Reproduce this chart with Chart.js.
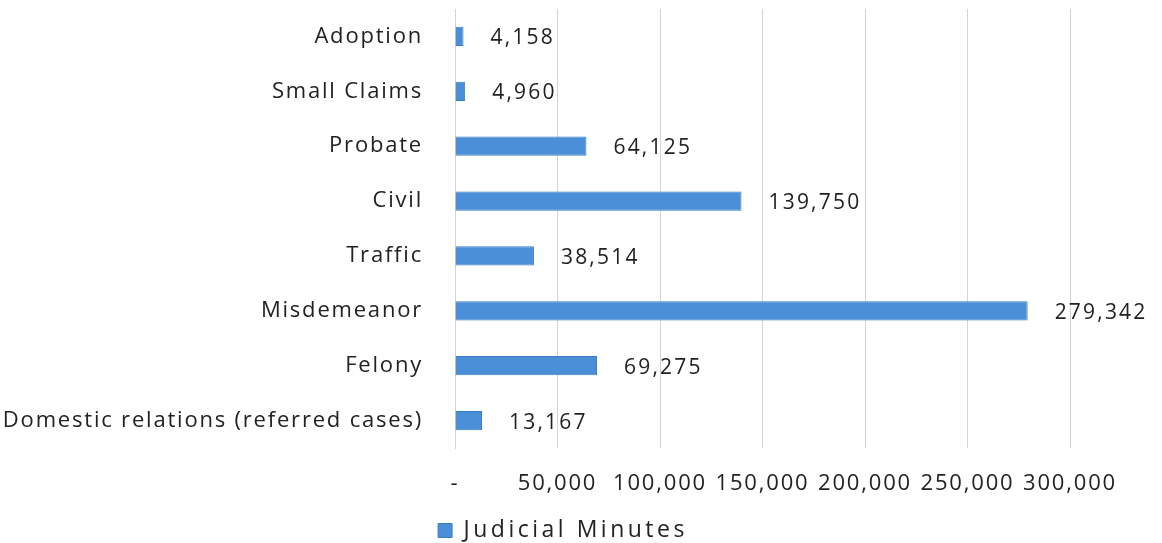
<!DOCTYPE html>
<html>
<head>
<meta charset="utf-8">
<script src="https://cdn.jsdelivr.net/npm/chart.js@4/dist/chart.umd.min.js"></script>
<style>
  html, body { margin: 0; padding: 0; background: #fff; }
  #wrap { width: 1162px; height: 543px; }
</style>
</head>
<body>
<div id="wrap"><canvas id="myChart" width="1162" height="543"></canvas></div>
<script>
// chart data
const categories = ['Adoption', 'Small Claims', 'Probate', 'Civil', 'Traffic', 'Misdemeanor', 'Felony', 'Domestic relations (referred cases)'];
const judicialMinutes = [4158, 4960, 64125, 139750, 38514, 279342, 69275, 13167];
const xTicks = [0, 50000, 100000, 150000, 200000, 250000, 300000];

const fontFamily = '"Open Sans", "Liberation Sans", sans-serif';

// run fn with a given letter spacing on the canvas
function withSpacing(ctx, sp, fn) {
  const prev = ctx.letterSpacing;
  ctx.letterSpacing = sp;
  fn();
  ctx.letterSpacing = prev;
}

// the scanned text is widely spaced, so space the canvas text out a bit
const spacing = {
  id: 'spacing',
  afterInit(chart) {
    // legend text is spaced even wider
    const lg = chart.legend;
    const upd = lg.update.bind(lg);
    const drw = lg.draw.bind(lg);
    lg.update = (...a) => withSpacing(chart.ctx, '3.5px', () => upd(...a));
    lg.draw = (...a) => withSpacing(chart.ctx, '3.5px', () => drw(...a));
  },
  beforeUpdate(chart) { chart.ctx.letterSpacing = '1.8px'; },
  beforeDraw(chart) { chart.ctx.letterSpacing = '1.8px'; },
  afterLayout(chart) {
    // legend sits a bit lower and right of the plain centre
    const lg = chart.legend;
    lg.left += 56;
    lg.top += 9;
    lg.bottom += 9;
  }
};

// value labels to the right of each bar
const barLabels = {
  id: 'barLabels',
  afterDatasetsDraw(chart) {
    const ctx = chart.ctx;
    const meta = chart.getDatasetMeta(0);
    ctx.save();
    ctx.font = '21px ' + fontFamily;
    ctx.letterSpacing = '2.2px';
    ctx.fillStyle = '#222';
    ctx.textAlign = 'left';
    ctx.textBaseline = 'middle';
    meta.data.forEach((bar, i) => {
      ctx.fillText(judicialMinutes[i].toLocaleString('en-US'), bar.x + 27, bar.y + 2);
    });
    ctx.restore();
  }
};

const config = {
  type: 'bar',
  data: {
    labels: categories,
    datasets: [{
      label: 'Judicial Minutes',
      data: judicialMinutes,
      backgroundColor: '#4a8fd8',
      borderColor: '#3a7cc4',
      borderWidth: 1,
      barPercentage: 0.35,
      categoryPercentage: 1
    }]
  },
  options: {
    indexAxis: 'y',
    responsive: false,
    animation: false,
    layout: { padding: { left: 0, right: 92, top: 9, bottom: 0 } },
    scales: {
      x: {
        min: 0,
        max: 300000,
        afterBuildTicks(axis) {
          axis.ticks = xTicks.map(v => ({ value: v }));
        },
        afterFit(axis) { axis.height = 56; },
        grid: { color: '#d4d4d4', drawTicks: false },
        border: { display: false },
        ticks: {
          padding: 23,
          color: '#222',
          maxRotation: 0,
          font: { size: 22, family: fontFamily },
          callback: v => v === 0 ? '-' : v.toLocaleString('en-US')
        }
      },
      y: {
        afterFit(axis) {
          axis.width = 455;
          axis.paddingTop = 0;
          axis.paddingBottom = 0;
        },
        grid: { display: false },
        border: { display: true, color: '#d4d4d4' },
        ticks: {
          padding: 24,
          color: '#222',
          font: { size: 22, family: fontFamily }
        }
      }
    },
    plugins: {
      legend: {
        position: 'bottom',
        labels: {
          boxWidth: 14,
          boxHeight: 14,
          padding: 6,
          color: '#222',
          font: { size: 23, family: fontFamily }
        }
      },
      tooltip: { enabled: false }
    }
  },
  plugins: [spacing, barLabels]
};

var myChart = new Chart(document.getElementById('myChart'), config);
</script>
</body>
</html>
